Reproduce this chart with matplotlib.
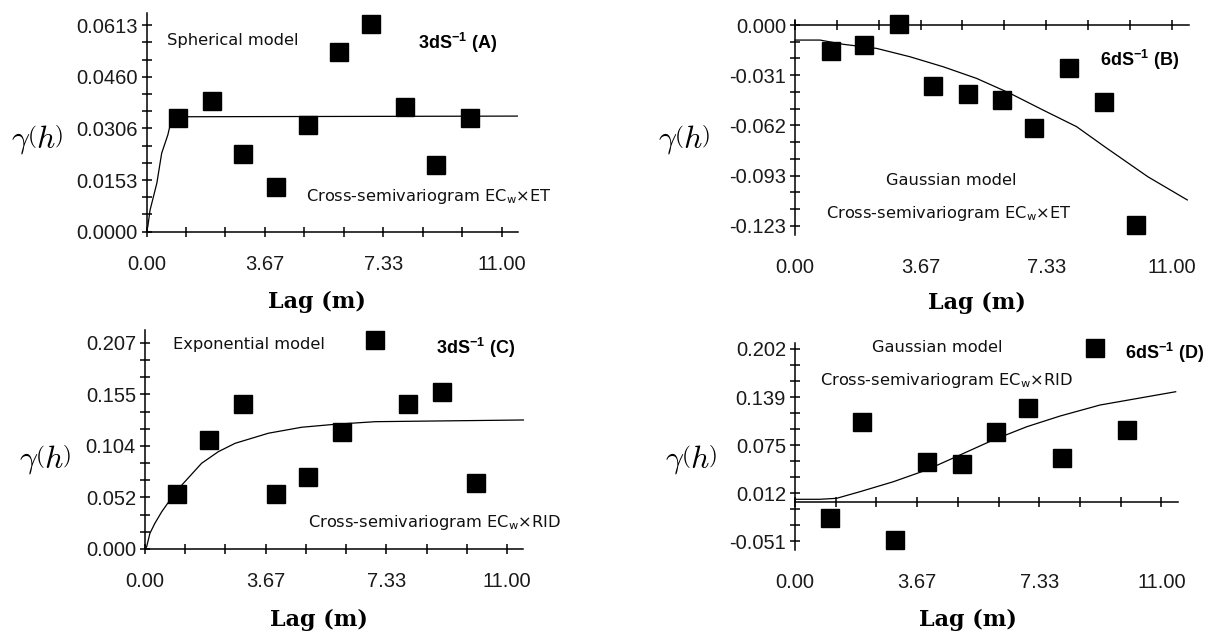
import numpy as np
import matplotlib
matplotlib.use('Agg')
import matplotlib.pyplot as plt
from matplotlib.ticker import FixedLocator

plt.rcParams['font.family'] = 'Liberation Sans'
plt.rcParams['axes.unicode_minus'] = False

W, H = 1214, 637

# lag (m) and semivariance
lag_a = [0.98, 2.02, 3.00, 4.02, 4.99, 5.97, 6.96, 7.99, 8.96, 10.0]
gam_a = [0.0336, 0.0388, 0.0230, 0.0133, 0.0316, 0.0532, 0.0615, 0.0371, 0.0198, 0.0338]
fit_a_x = [0.0, 0.04, 0.11, 0.32, 0.47, 0.66, 0.73, 0.78, 11.48]
fit_a_y = [0.0, 0.0015, 0.0064, 0.0144, 0.0233, 0.0287, 0.0316, 0.0341, 0.0343]

lag_b = [1.05, 2.02, 3.04, 4.02, 5.04, 6.03, 6.97, 7.99, 9.01, 9.96]
gam_b = [-0.0159, -0.0123, 0.0004, -0.0372, -0.0423, -0.0460, -0.0634, -0.0265, -0.0470, -0.1225]
fit_b_x = [0.0, 0.73, 1.41, 2.38, 3.35, 4.33, 5.30, 6.27, 7.24, 8.22, 9.04, 10.30, 11.45]
fit_b_y = [-0.0092, -0.0092, -0.0118, -0.0143, -0.0194, -0.0256, -0.0327, -0.0418,
           -0.0521, -0.0623, -0.0746, -0.0930, -0.1072]

lag_c = [0.96, 1.95, 2.97, 3.97, 4.96, 5.98, 6.99, 8.00, 9.04, 10.05]
gam_c = [0.0553, 0.1095, 0.1457, 0.0550, 0.0727, 0.1179, 0.2101, 0.1457, 0.1581, 0.0666]
fit_c_x = [0.0, 0.05, 0.15, 0.30, 0.51, 0.76, 1.12, 1.72, 2.23, 2.74, 3.75, 4.76, 5.78, 7.0, 11.5]
fit_c_y = [0.0, 0.0023, 0.0158, 0.0258, 0.0375, 0.0492, 0.0643, 0.0861, 0.0978, 0.1062,
           0.1163, 0.1223, 0.1253, 0.1279, 0.1296]

lag_d = [1.05, 2.00, 3.00, 3.97, 5.00, 6.03, 6.99, 8.01, 9.01, 9.98]
gam_d = [-0.0211, 0.1062, -0.0497, 0.0527, 0.0505, 0.0930, 0.1238, 0.0580, 0.2029, 0.0953]
fit_d_x = [0.0, 0.75, 1.25, 1.95, 2.95, 3.95, 4.95, 5.95, 6.96, 7.96, 9.16, 11.43]
fit_d_y = [0.004, 0.004, 0.0053, 0.0140, 0.0271, 0.0426, 0.0623, 0.0821, 0.0996, 0.1137,
           0.1282, 0.1457]

x_labels = ['0.00', '', '', '3.67', '', '', '7.33', '', '', '11.00']
y_labels_a = ['0.0000', '0.0153', '0.0306', '0.0460', '0.0613']
y_labels_b = ['-0.123', '-0.093', '-0.062', '-0.031', '0.000']
y_labels_c = ['0.000', '0.052', '0.104', '0.155', '0.207']
y_labels_d = ['-0.051', '0.012', '0.075', '0.139', '0.202']

fig = plt.figure(figsize=(W / 100, H / 100), dpi=100)


def px_axes(left, right, top, bottom):
    return fig.add_axes([left / W, 1 - bottom / H, (right - left) / W, (bottom - top) / H])


def style(ax, ylim, y_lo, y_hi, ylabels):
    ax.set_xlim(0, 11.5)
    ax.set_ylim(*ylim)
    ax.patch.set_visible(False)
    ax.spines['right'].set_visible(False)
    ax.spines['bottom'].set_visible(False)
    # x axis line sits at gamma = 0, its labels stay under the plot
    ax.spines['top'].set_position(('data', 0))
    for s in ['left', 'top']:
        ax.spines[s].set_linewidth(1.1)
    ax.set_xticks(np.linspace(0, 11, 10), x_labels)
    ax.tick_params(axis='x', bottom=False, top=True, labelbottom=True, labeltop=False,
                   direction='inout', length=7, width=1.1, pad=13, labelsize=14.5,
                   labelcolor='#1a1a1a')
    ax.set_yticks(np.linspace(y_lo, y_hi, 5), ylabels)
    ax.yaxis.set_minor_locator(FixedLocator(np.linspace(y_lo, y_hi, 13)))
    ax.tick_params(axis='y', which='both', direction='inout', length=7, width=1.1,
                   pad=3, labelsize=14.5, labelcolor='#1a1a1a')


def draw(ax, lag, gam, fx, fy):
    ax.plot(fx, fy, color='black', lw=0.9, clip_on=False)
    ax.plot(lag, gam, 's', color='black', ms=12.5, clip_on=False)


def label(x, y, s, **kw):
    fig.text(x / W, 1 - y / H, s, **kw)


note = dict(ha='left', va='center', family='DejaVu Sans', size=11.7, color='#111111')
tag = dict(ha='left', va='center', family='Liberation Sans', weight='bold', size=13)
gam_kw = dict(ha='center', va='center', size=23, math_fontfamily='cm')
lag_kw = dict(ha='center', va='center', size=16, family='DejaVu Serif', weight='bold')

# (A) spherical
ax = px_axes(146.5, 518, 13.3, 231.7)
style(ax, (0, 0.0648), 0.0, 0.0613, y_labels_a)
draw(ax, lag_a, gam_a, fit_a_x, fit_a_y)
label(167, 41, 'Spherical model', **note)
label(418, 43, r'3dS$^{\mathregular{-1}}$ (A)', **tag)
label(306, 197, r'Cross-semivariogram EC$_{\mathregular{w}}$×ET', **note)
label(37, 140, r'$\gamma\left(h\right)$', **gam_kw)
label(317, 302, 'Lag (m)', **lag_kw)

# (B) gaussian
ax = px_axes(795, 1189, 20, 235)
style(ax, (-0.1287, 0.0031), -0.123, 0.0, y_labels_b)
draw(ax, lag_b, gam_b, fit_b_x, fit_b_y)
label(1100, 60, r'6dS$^{\mathregular{-1}}$ (B)', **tag)
label(886, 180, 'Gaussian model', **note)
label(826, 213, r'Cross-semivariogram EC$_{\mathregular{w}}$×ET', **note)
label(684, 140, r'$\gamma\left(h\right)$', **gam_kw)
label(977, 303, 'Lag (m)', **lag_kw)

# (C) exponential
ax = px_axes(145, 523.4, 330, 549)
style(ax, (0, 0.220), 0.0, 0.207, y_labels_c)
draw(ax, lag_c, gam_c, fit_c_x, fit_c_y)
label(173, 345, 'Exponential model', **note)
label(436, 348, r'3dS$^{\mathregular{-1}}$ (C)', **tag)
label(308, 523, r'Cross-semivariogram EC$_{\mathregular{w}}$×RID', **note)
label(45, 460, r'$\gamma\left(h\right)$', **gam_kw)
label(319, 620, 'Lag (m)', **lag_kw)

# (D) gaussian
ax = px_axes(795, 1178, 343.3, 550)
style(ax, (-0.0628, 0.2095), -0.051, 0.202, y_labels_d)
draw(ax, lag_d, gam_d, fit_d_x, fit_d_y)
label(872, 348, 'Gaussian model', **note)
label(1125, 353, r'6dS$^{\mathregular{-1}}$ (D)', **tag)
label(820, 380, r'Cross-semivariogram EC$_{\mathregular{w}}$×RID', **note)
label(691, 460, r'$\gamma\left(h\right)$', **gam_kw)
label(968, 620, 'Lag (m)', **lag_kw)

fig.savefig('out.png', dpi=100)
